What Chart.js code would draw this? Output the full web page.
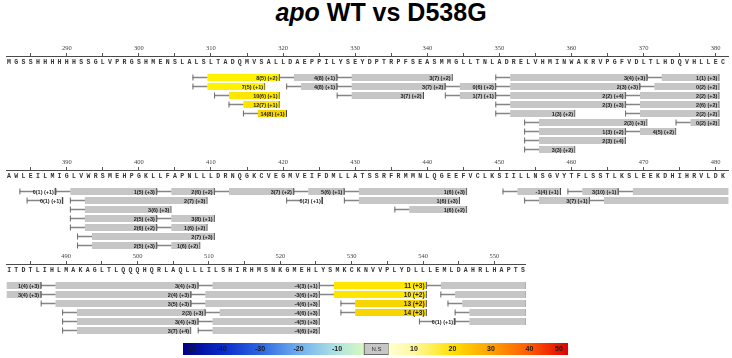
<!DOCTYPE html>
<html><head><meta charset="utf-8">
<script src="https://cdn.jsdelivr.net/npm/chart.js@4.4.1/dist/chart.umd.min.js"></script>
<style>
html,body{margin:0;padding:0;background:#fff;}
body{width:732px;height:358px;overflow:hidden;position:relative;}
#title{position:absolute;left:0;top:0;width:762px;text-align:center;font-family:'Liberation Sans',Arial,sans-serif;font-weight:bold;font-size:25px;line-height:25px;color:#000;white-space:nowrap;}
canvas{position:absolute;}
</style></head><body>
<div id="title"><i>apo</i> WT vs D538G</div>
<script>
// ---------- data ----------
const seqRows = [
  "MGSSHHHHHHSSGLVPRGSHMENSLALSLTADQMVSALLDAEPPILYSEYDPTRPFSEASMMGLLTNLADRELVHMINWAKRVPGFVDLTLHDQVHLLEC",
  "AWLEILMIGLVWRSMEHPGKLLFAPNLLLDRNQGKCVEGMVEIFDMLLATSSRFRMMNLQGEEFVCLKSIILLNSGVYTFLSSTLKSLEEKDHIHRVLDK",
  "ITDTLIHLMAKAGLTLQQQHQRLAQLLLILSHIRHMSNKGMEHLYSMKCKNVVPLYDLLLEMLDAHRLHAPTS"
];
const rowStarts = [282, 382, 482];
const rowLanes = [9, 7, 6];

const pepStart = [308,320,328,350,371, 308,321,328,343,350,370, 311,328,343,350,368, 313,350,368, 315,350,368, 354,375, 354,368, 354, 354,
  384,389,403,411,422,429,451,460,467, 385,391,421,429,454,463, 391,436, 391,403, 391,403, 392, 392,403,
  487,509,526,541, 487,508,526,543, 487,508,529,544, 490,510,529,545, 490,509,540,545, 490,509];
const pepEnd = [319,327,343,370,380, 317,327,342,349,369,380, 319,339,349,367,380, 319,367,380, 320,360,380, 370,380, 367,374, 367, 360,
  388,402,410,421,428,445,458,466,486, 389,409,425,444,462,486, 404,445, 402,410, 402,409, 410, 402,408,
  508,525,540,554, 507,525,540,554, 507,525,540,554, 509,525,540,554, 508,525,544,554, 507,525];
const pepLane = [0,0,0,0,0, 1,1,1,1,1,1, 2,2,2,2,2, 3,3,3, 4,4,4, 5,5, 6,6, 7, 8,
  0,0,0,0,0,0,0,0,0, 1,1,1,1,1,1, 2,2, 3,3, 4,4, 5, 6,6,
  0,0,0,0, 1,1,1,1, 2,2,2,2, 3,3,3,3, 4,4,4,4, 5,5];
const pepLabel = ["8(5) (+2)","4(8) (+1)","3(7) (+2)","3(4) (+3)","1(1) (+3)",
  "7(5) (+1)","4(8) (+1)","3(7) (+2)","0(6) (+2)","2(3) (+3)","0(2) (+2)",
  "10(6) (+1)","3(7) (+2)","1(7) (+1)","2(2) (+4)","2(2) (+3)",
  "12(7) (+1)","2(3) (+3)","2(6) (+2)",
  "14(8) (+1)","1(3) (+2)","2(2) (+2)",
  "2(3) (+3)","0(2) (+2)",
  "1(3) (+2)","4(5) (+2)",
  "2(3) (+4)",
  "3(3) (+2)",
  "0(1) (+1)","1(5) (+3)","2(6) (+2)","3(7) (+2)","5(6) (+1)","1(6) (+3)","-1(4) (+1)","3(10) (+1)","1(4) (+3)",
  "0(1) (+1)","2(7) (+3)","0(2) (+1)","1(6) (+3)","3(7) (+1)","3(4) (+3)",
  "3(6) (+3)","1(6) (+2)",
  "2(5) (+3)","3(8) (+1)",
  "2(6) (+2)","1(6) (+2)",
  "2(7) (+3)",
  "2(5) (+3)","1(6) (+2)",
  "3(4) (+3)","-4(3) (+1)","11 (+3)","3(7) (+3)",
  "2(4) (+3)","-3(6) (+2)","10 (+2)","0(6) (+3)",
  "3(5) (+3)","-4(6) (+3)","13 (+2)","2(5) (+2)",
  "2(3) (+3)","-4(6) (+3)","14 (+3)","4(6) (+3)",
  "3(4) (+3)","-4(5) (+3)","0(1) (+1)","2(5) (+2)",
  "3(7) (+4)","-4(6) (+2)"];
// 'up' = significant increase, 'ns' = not significant, 'nd' = unfilled
const pepState = ["up","ns","ns","ns","ns", "up","ns","ns","ns","ns","ns", "up","ns","ns","ns","ns", "up","ns","ns", "up","ns","ns", "ns","ns", "ns","ns", "ns", "ns",
  "nd","ns","ns","ns","ns","ns","ns","ns","ns", "nd","ns","nd","ns","ns","ns", "ns","ns", "ns","ns", "ns","ns", "ns", "ns","ns",
  "ns","ns","up","ns", "ns","ns","up","ns", "ns","ns","up","ns", "ns","ns","up","ns", "ns","ns","nd","ns", "ns","ns"];

const cbSegStart = [-50, -3, 3.5];
const cbSegEnd = [-3, 3.5, 50];
const cbTicks = [-50, -40, -30, -20, -10, 10, 20, 30, 40, 50];
const cbNsLabel = "N.S";

// ---------- style / layout ----------
Chart.defaults.font.family = "'Liberation Sans', Arial, sans-serif";
const PX = 7.313;
const rowTops = [36, 150, 244];
const rowWidths = [732, 732, 532];
const AX_NUM_H = 20, AX_SEQ_H = 17, LANE_H = 9;
const NS_GREY = '#c6c6c6';

function yellowFor(v) {
  if (v <= 8) return '#fff200';
  if (v <= 12) return '#ffe600';
  return '#f7d600';
}

const labelPlugin = {
  id: 'pepLabels',
  afterDatasetsDraw(chart) {
    const ds = chart.data.datasets[1];
    const meta = chart.getDatasetMeta(1);
    const xs = chart.scales.x;
    const ctx = chart.ctx;
    ctx.save();
    ctx.textAlign = 'right';
    ctx.textBaseline = 'middle';
    meta.data.forEach((el, j) => {
      const i = ds.pepIndex[j];
      if (pepEnd[i] + 0.5 > xs.max) return;
      const right = Math.max(el.x, el.base);
      const big = /^\d+ \(/.test(pepLabel[i]);
      ctx.font = 'bold ' + (big ? 6.5 : 5.5) + "px 'Liberation Sans'";
      ctx.fillStyle = '#222';
      ctx.fillText(pepLabel[i], right - 2, el.y + 0.5);
    });
    ctx.restore();
  }
};

function makeRow(r) {
  const start = rowStarts[r], w = rowWidths[r], seq = seqRows[r];
  const xmin = start - 0.33, xmax = xmin + w / PX;
  const lanes = rowLanes[r];
  const h = AX_NUM_H + AX_SEQ_H + lanes * LANE_H;
  const cv = document.createElement('canvas');
  cv.width = w; cv.height = h;
  cv.style.left = '0px'; cv.style.top = rowTops[r] + 'px';
  cv.style.width = w + 'px'; cv.style.height = h + 'px';
  document.body.appendChild(cv);

  const idx = [];
  for (let i = 0; i < pepStart.length; i++) {
    if (pepEnd[i] + 0.5 > xmin && pepStart[i] - 0.5 < xmax) idx.push(i);
  }
  const barData = idx.map(i => ({x: [pepStart[i] + 1.5, pepEnd[i] + 0.5], y: pepLane[i]}));
  const whiskData = idx.map(i => ({x: [pepStart[i] - 0.5, pepStart[i] + 1.5], y: pepLane[i]}));
  const tickIdx = idx.filter(i => pepStart[i] - 0.5 >= xmin);
  const tickData = tickIdx.map(i => ({x: pepStart[i] - 0.5, y: pepLane[i]}));

  new Chart(cv, {
    type: 'bar',
    data: {
      datasets: [
        {type: 'bar', data: whiskData, xAxisID: 'x', yAxisID: 'y', backgroundColor: '#858585',
         barThickness: 1, grouped: false, order: 3, borderWidth: 0},
        {type: 'bar', data: barData, pepIndex: idx, xAxisID: 'x', yAxisID: 'y',
         backgroundColor: (c) => {
           const i = idx[c.dataIndex];
           if (i === undefined) return NS_GREY;
           if (pepState[i] === 'up') return yellowFor(parseFloat(pepLabel[i]));
           if (pepState[i] === 'nd') return 'rgba(0,0,0,0)';
           return NS_GREY;
         },
         borderColor: '#4a4a4a', borderWidth: {left: 0, top: 0, bottom: 0, right: 1}, borderSkipped: false,
         barThickness: 7, grouped: false, order: 2},
        {type: 'scatter', data: tickData, xAxisID: 'x', yAxisID: 'y', pointStyle: 'line', rotation: 90,
         pointRadius: 3, borderColor: '#6a6a6a', borderWidth: 1, order: 1}
      ]
    },
    options: {
      indexAxis: 'y', responsive: false, maintainAspectRatio: false, animation: false,
      devicePixelRatio: 1, events: [],
      layout: {padding: 0, autoPadding: false},
      plugins: {legend: {display: false}, tooltip: {enabled: false}, title: {display: false}},
      scales: {
        x: {
          type: 'linear', axis: 'x', position: 'top', min: xmin, max: xmax, weight: 2, offset: false,
          afterFit: (s) => { s.height = AX_NUM_H; },
          border: {display: true, color: '#4a4a4a', width: 1},
          grid: {display: true, drawOnChartArea: false, drawTicks: true, tickLength: 3, color: '#555', offset: false},
          ticks: {stepSize: 5, autoSkip: false, maxRotation: 0, minRotation: 0, includeBounds: false, padding: 1,
                  color: '#444', font: {family: "'Liberation Serif'", size: 6.5},
                  callback: (v) => (v % 10 === 0 ? String(v) : '')}
        },
        seq: {
          type: 'linear', axis: 'x', position: 'top', min: xmin, max: xmax, weight: 1, offset: false,
          afterFit: (s) => { s.height = AX_SEQ_H; },
          border: {display: false},
          grid: {display: false, drawTicks: false},
          ticks: {stepSize: 1, autoSkip: false, maxRotation: 0, minRotation: 0, includeBounds: false, padding: 7.1,
                  color: '#333', font: {family: "'Liberation Mono'", size: 6.5, weight: 'bold'},
                  callback: (v) => {
                    const rv = Math.round(v);
                    const k = rv - start;
                    return (Math.abs(v - rv) < 1e-6 && k >= 0 && k < seq.length) ? seq[k] : '';
                  }}
        },
        y: {type: 'linear', display: false, reverse: true, min: -0.5, max: lanes - 0.5, offset: false}
      }
    },
    plugins: [labelPlugin]
  });
}
for (let r = 0; r < 3; r++) makeRow(r);

// ---------- colour bar ----------
const negStops = [[-50, '#000080'], [-40, '#0828c8'], [-30, '#2a66e0'], [-20, '#70aef0'], [-10, '#b0e4e0'], [-3, '#d8f8c0']];
const posStops = [[3.5, '#ffffd0'], [10, '#fff8a0'], [15, '#ffee50'], [20, '#ffdf00'], [30, '#ffa000'], [40, '#ff5a00'], [50, '#e00000']];
(function makeColorbar() {
  const cv = document.createElement('canvas');
  const w = 385, h = 12;
  cv.width = w; cv.height = h;
  cv.style.left = '183px'; cv.style.top = '343px';
  cv.style.width = w + 'px'; cv.style.height = h + 'px';
  document.body.appendChild(cv);
  const cbPlugin = {
    id: 'cbLabels',
    afterDatasetsDraw(chart) {
      const xs = chart.scales.x, ctx = chart.ctx, a = chart.chartArea;
      const yc = (a.top + a.bottom) / 2 + 0.5;
      ctx.save();
      ctx.textAlign = 'center'; ctx.textBaseline = 'middle';
      ctx.font = "bold 7px 'Liberation Sans'";
      ctx.fillStyle = '#1a1a1a';
      cbTicks.forEach(v => {
        let x = xs.getPixelForValue(v);
        x = Math.min(Math.max(x, a.left + 8), a.right - 9);
        ctx.fillText(String(v), x, yc);
      });
      ctx.font = "6px 'Liberation Sans'";
      ctx.fillStyle = '#333';
      ctx.fillText(cbNsLabel, (xs.getPixelForValue(cbSegStart[1]) + xs.getPixelForValue(cbSegEnd[1])) / 2, yc);
      ctx.restore();
    }
  };
  new Chart(cv, {
    type: 'bar',
    data: {
      labels: ['cb'],
      datasets: [{
        data: cbSegStart.map((s, i) => ({x: [s, cbSegEnd[i]], y: 'cb'})),
        grouped: false, barPercentage: 1, categoryPercentage: 1,
        borderSkipped: false,
        borderWidth: (c) => (c.dataIndex === 1 ? 1 : 0),
        borderColor: '#505050',
        backgroundColor: (c) => {
          const ch = c.chart;
          if (!ch.chartArea) return NS_GREY;
          const i = c.dataIndex;
          if (i === 1) return NS_GREY;
          const xs = ch.scales.x;
          const stops = i === 0 ? negStops : posStops;
          const x0 = xs.getPixelForValue(cbSegStart[i]), x1 = xs.getPixelForValue(cbSegEnd[i]);
          const g = ch.ctx.createLinearGradient(x0, 0, x1, 0);
          stops.forEach(([v, col]) => g.addColorStop((v - cbSegStart[i]) / (cbSegEnd[i] - cbSegStart[i]), col));
          return g;
        }
      }]
    },
    options: {
      indexAxis: 'y', responsive: false, maintainAspectRatio: false, animation: false,
      devicePixelRatio: 1, events: [],
      layout: {padding: 0, autoPadding: false},
      plugins: {legend: {display: false}, tooltip: {enabled: false}},
      scales: {
        x: {type: 'linear', min: -50, max: 50, display: false},
        y: {type: 'category', display: false}
      }
    },
    plugins: [cbPlugin]
  });
})();
</script>
</body></html>
